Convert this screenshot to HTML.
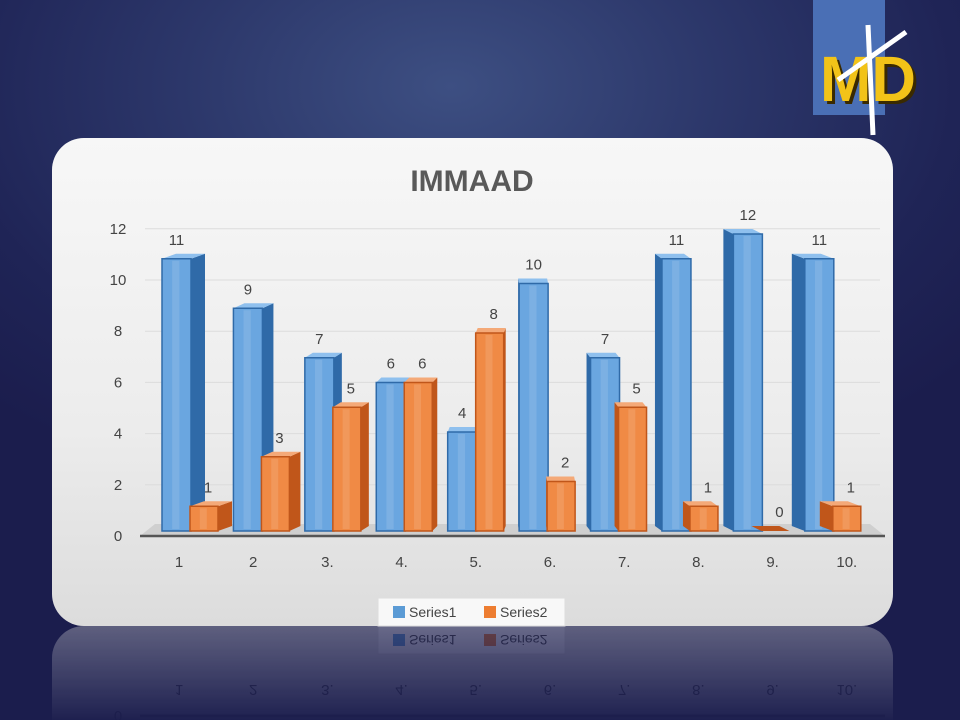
<!DOCTYPE html>
<html><head><meta charset="utf-8"><style>
html,body{margin:0;padding:0;width:960px;height:720px;overflow:hidden}
body{background:radial-gradient(ellipse 70% 60% at 47% 12%,#3d4f82 0%,#2c376a 40%,#1f2456 75%,#1b1d4d 100%);font-family:"Liberation Sans",sans-serif}
svg{position:absolute;left:0;top:0;overflow:hidden}
</style></head><body>
<svg width="960" height="720" viewBox="0 0 960 720">
<defs>
<linearGradient id="panel" x1="0" y1="0" x2="0" y2="1"><stop offset="0" stop-color="#f7f7f7"/><stop offset="0.6" stop-color="#ececec"/><stop offset="1" stop-color="#dcdcdc"/></linearGradient>
<linearGradient id="refl" x1="0" y1="0" x2="0" y2="1"><stop offset="0" stop-color="#fff" stop-opacity="0.35"/><stop offset="1" stop-color="#fff" stop-opacity="0.02"/></linearGradient>
<mask id="rm"><rect x="0" y="626" width="960" height="94" fill="url(#refl)"/></mask>
<clipPath id="cp"><rect x="0" y="0" width="960" height="720"/></clipPath>
</defs>
<g>
<rect x="813" y="0" width="72" height="115" fill="#4a6fb5"/>
<text x="823" y="104" font-size="64" font-weight="bold" fill="#3a2a00" font-family="Liberation Sans,sans-serif" textLength="96" lengthAdjust="spacingAndGlyphs">MD</text>
<text x="820" y="101" font-size="64" font-weight="bold" fill="#f2c318" font-family="Liberation Sans,sans-serif" textLength="96" lengthAdjust="spacingAndGlyphs">MD</text>
<path d="M868 25 L873 135 M838 80 L906 32" stroke="#fff" stroke-width="5" fill="none"/>
</g>
<g id="panelg">
<rect x="52" y="138" width="841" height="488" rx="32" fill="url(#panel)"/>
<text x="472" y="191" text-anchor="middle" font-size="30" font-weight="bold" fill="#595959">IMMAAD</text>
<g id="grid"></g>
<polygon points="140,536 885,536 870,524 155,524" fill="#cfcfcf"/>
<line x1="140" y1="536" x2="885" y2="536" stroke="#555" stroke-width="2.5"/>
<g id="bars"></g>
<g>
<rect x="378" y="598" width="187" height="28" fill="#f8f8f8" stroke="#ddd"/>
<rect x="393" y="606" width="12" height="12" fill="#5b9bd5"/>
<text x="409" y="617" font-size="14" fill="#444">Series1</text>
<rect x="484" y="606" width="12" height="12" fill="#ed7d31"/>
<text x="500" y="617" font-size="14" fill="#444">Series2</text>
</g>
</g>
<g clip-path="url(#cp)"><g mask="url(#rm)"><use href="#panelg" transform="translate(0,1252) scale(1,-1)"/></g></g>
</svg>
<script>
const categories=["1","2","3.","4.","5.","6.","7.","8.","9.","10."];
const series1=[11,9,7,6,4,10,7,11,12,11];
const series2=[1,3,5,6,8,2,5,1,0,1];
const yTicks=[0,2,4,6,8,10,12];
const NS="http://www.w3.org/2000/svg";
function mk(t,a,p){const e=document.createElementNS(NS,t);for(const k in a)e.setAttribute(k,a[k]);p.appendChild(e);return e;}
const gy=v=>536-v*25.6, by=v=>531-v*24.75, cx=i=>179+i*74.2;
const grid=document.getElementById('grid');
yTicks.forEach(v=>{
 if(v>0){const l=mk('line',{x1:145,y1:gy(v),x2:880,y2:gy(v),stroke:'#dcdcdc','stroke-width':1},grid);
 
 }
 const t=mk('text',{x:118,y:gy(v)+5,'text-anchor':'middle','font-size':15,fill:'#444'},grid);t.textContent=v;
 
 
});
const bars=document.getElementById('bars');
function bar(x,w,v,d,front,side,top,name,lab){
 const g=mk('g',{},bars);
 
 
 const y=by(v),b=531,u=5;
 if(v>0){
 const sx=d>0?x+w:x;
 mk('polygon',{points:`${sx},${y} ${sx+d},${y-u} ${sx+d},${b-u} ${sx},${b}`,fill:side},g);
 mk('polygon',{points:`${x},${y} ${x+w},${y} ${x+w+d},${y-u} ${x+d},${y-u}`,fill:top},g);
 mk('rect',{x:x,y:y,width:w,height:b-y,fill:front,stroke:side,'stroke-width':1.5},g);
 mk('rect',{x:x+w*0.35,y:y+2,width:w*0.25,height:b-y-4,fill:'#ffffff',opacity:0.12},g);
 } else mk('polygon',{points:`${x},${b} ${x+w},${b} ${x+w+d},${b-u} ${x+d},${b-u}`,fill:side},g);
 const t=mk('text',{x:x+w/2+lab,y:y-14,'text-anchor':'middle','font-size':15,fill:'#444'},bars);t.textContent=v;
 
 
}
categories.forEach((c,i)=>{
 const x=cx(i), off=-17-25*i/9, d=14-3*i;
 bar(x+off,29,series1[i],d,'#6aa6e0','#2f6aa8','#8fc0ee','bar-series1',0);
 bar(x+off+28,28,series2[i],d,'#f08a45','#c0561a','#f4a978','bar-series2',4);
 const t=mk('text',{x:x,y:567,'text-anchor':'middle','font-size':15,fill:'#444'},bars);t.textContent=c;
 
 
});
</script>
</body></html>
